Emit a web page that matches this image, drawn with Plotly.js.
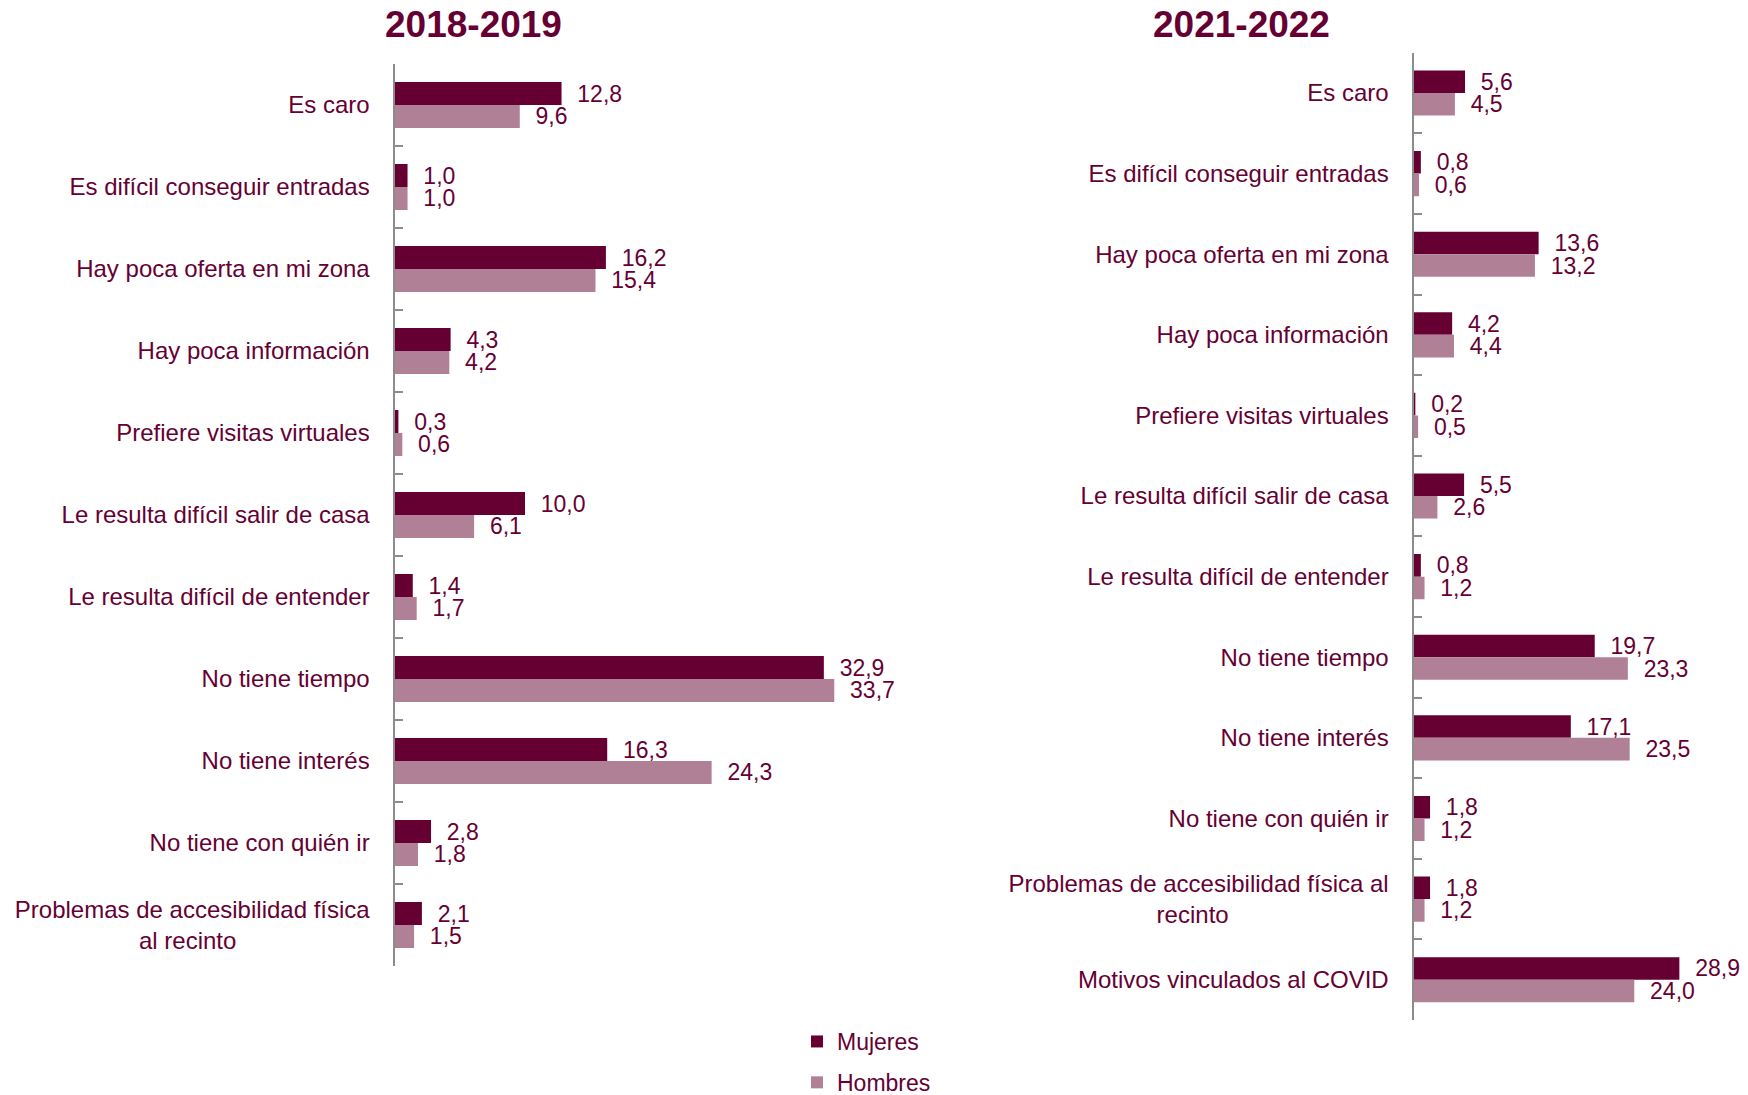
<!DOCTYPE html>
<html>
<head>
<meta charset="utf-8">
<script src="https://cdn.plot.ly/plotly-3.0.1.min.js"></script>
<style>html,body{margin:0;padding:0;background:#fff;}#chart{width:1748px;height:1095px;}</style>
</head>
<body>
<div id="chart"></div>
<script>
const NB = '\u00a0';
const pad = n => NB.repeat(n);

// 2018-2019
const categories1 = [
  'Es caro',
  'Es difícil conseguir entradas',
  'Hay poca oferta en mi zona',
  'Hay poca información',
  'Prefiere visitas virtuales',
  'Le resulta difícil salir de casa',
  'Le resulta difícil de entender',
  'No tiene tiempo',
  'No tiene interés',
  'No tiene con quién ir',
  'Problemas de accesibilidad física<br>al recinto' + pad(20)
];
const mujeres1 = [12.8, 1.0, 16.2, 4.3, 0.3, 10.0, 1.4, 32.9, 16.3, 2.8, 2.1];
const hombres1 = [9.6, 1.0, 15.4, 4.2, 0.6, 6.1, 1.7, 33.7, 24.3, 1.8, 1.5];

// 2021-2022
const categories2 = [
  'Es caro',
  'Es difícil conseguir entradas',
  'Hay poca oferta en mi zona',
  'Hay poca información',
  'Prefiere visitas virtuales',
  'Le resulta difícil salir de casa',
  'Le resulta difícil de entender',
  'No tiene tiempo',
  'No tiene interés',
  'No tiene con quién ir',
  'Problemas de accesibilidad física al<br>recinto' + pad(24),
  'Motivos vinculados al COVID'
];
const mujeres2 = [5.6, 0.8, 13.6, 4.2, 0.2, 5.5, 0.8, 19.7, 17.1, 1.8, 1.8, 28.9];
const hombres2 = [4.5, 0.6, 13.2, 4.4, 0.5, 2.6, 1.2, 23.3, 23.5, 1.2, 1.2, 24.0];

const seriesNames = ['Mujeres', 'Hombres'];
const panelTitles = ['2018-2019', '2021-2022'];

const C_M = '#660033';
const C_H = '#B08096';
const TXT = '#660033';
const FONT = 'Liberation Sans, Arial, sans-serif';

function bar(name, x, y, color, xa, ya, show) {
  return {
    type: 'bar', orientation: 'h', name: name, x: x, y: y,
    xaxis: xa, yaxis: ya, showlegend: show, legendgroup: name,
    marker: {color: color, line: {width: 0}},
    texttemplate: pad(2) + '%{x:.1f}', textposition: 'outside',
    textfont: {family: FONT, size: 23, color: TXT},
    constraintext: 'none', cliponaxis: false, hoverinfo: 'skip'
  };
}

const data = [
  bar(seriesNames[0], mujeres1, categories1, C_M, 'x', 'y', true),
  bar(seriesNames[1], hombres1, categories1, C_H, 'x', 'y', true),
  bar(seriesNames[0], mujeres2, categories2, C_M, 'x2', 'y2', false),
  bar(seriesNames[1], hombres2, categories2, C_H, 'x2', 'y2', false)
];

const yCommon = {
  type: 'category', showgrid: false, zeroline: false,
  showline: true, linecolor: '#8c8c8c', linewidth: 2,
  ticks: 'inside', tickson: 'boundaries', ticklen: 8, tickwidth: 2, tickcolor: '#8c8c8c',
  tickfont: {family: FONT, size: 24, color: TXT},
  ticklabelstandoff: 18, automargin: false
};

const layout = {
  width: 1748, height: 1095,
  margin: {l: 0, r: 0, t: 0, b: 0, autoexpand: false},
  paper_bgcolor: '#fff', plot_bgcolor: 'rgba(0,0,0,0)',
  separators: ',.',
  barmode: 'group', bargap: 0.44, bargroupgap: 0,
  font: {family: FONT, color: TXT},
  xaxis: {domain: [394.5/1748, 0.55], range: [0, 43.44], visible: false, fixedrange: true},
  yaxis: Object.assign({}, yCommon, {
    domain: [(1095-966)/1095, (1095-64)/1095],
    range: [categories1.length - 0.5, -0.5], anchor: 'x'
  }),
  xaxis2: {domain: [1413.5/1748, 1.0], range: [0, 36.36], visible: false, fixedrange: true, anchor: 'y2'},
  yaxis2: Object.assign({}, yCommon, {
    domain: [(1095-1020)/1095, (1095-52.7)/1095],
    range: [categories2.length - 0.5, -0.5], anchor: 'x2'
  }),
  showlegend: true,
  legend: {
    x: 797/1748, y: (1095-1020)/1095, xanchor: 'left', yanchor: 'top',
    orientation: 'v', traceorder: 'grouped', tracegroupgap: 8,
    font: {family: FONT, size: 23, color: TXT}, bgcolor: 'rgba(0,0,0,0)'
  },
  annotations: [
    {text: '<b>' + panelTitles[0] + '</b>', xref: 'paper', yref: 'paper',
     x: 473/1748, y: (1095-24)/1095, xanchor: 'center', yanchor: 'middle', showarrow: false,
     font: {family: FONT, size: 37, color: TXT}},
    {text: '<b>' + panelTitles[1] + '</b>', xref: 'paper', yref: 'paper',
     x: 1241/1748, y: (1095-24)/1095, xanchor: 'center', yanchor: 'middle', showarrow: false,
     font: {family: FONT, size: 37, color: TXT}}
  ]
};

Plotly.newPlot('chart', data, layout, {displayModeBar: false, staticPlot: true});
</script>
</body>
</html>
